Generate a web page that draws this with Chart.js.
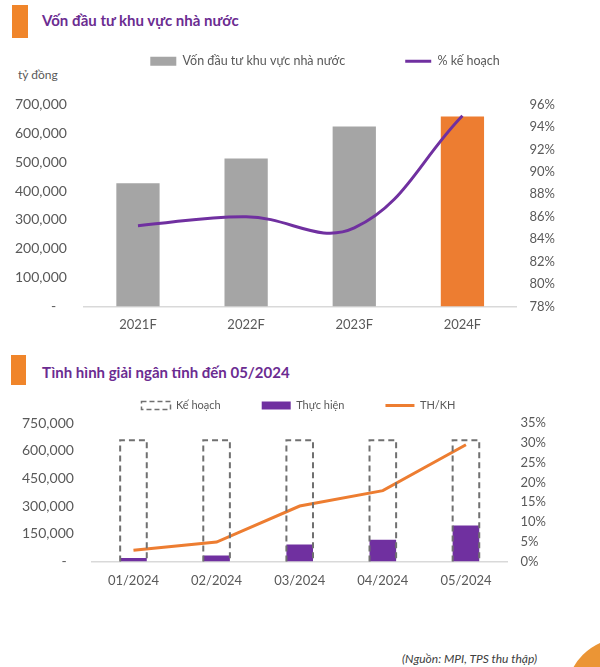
<!DOCTYPE html>
<html>
<head>
<meta charset="utf-8">
<script src="https://cdn.jsdelivr.net/npm/chart.js@4.4.1/dist/chart.umd.min.js"></script>
<style>
  body { margin: 0; background: #fff; }
  #page { position: relative; width: 600px; height: 667px; overflow: hidden; background: #fff; font-family: Lato, "Noto Sans", sans-serif; }
  .block { position: absolute; background: #f0852a; }
  .title { position: absolute; color: #6b2c91; font-weight: 700; font-size: 15px; line-height: 20px; white-space: nowrap; }
  .unit { position: absolute; color: #595959; font-size: 12px; }
  .source { position: absolute; color: #404040; font-size: 12px; font-style: italic; }
  .corner { position: absolute; left: 566px; top: 638px; width: 115px; height: 115px; border-radius: 50%; background: #eb9535; }
  canvas { position: absolute; left: 0; }
</style>
</head>
<body>
<div id="page">
  <div class="block" style="left:12px; top:5px; width:16px; height:33px;"></div>
  <div class="title" style="left:42px; top:10px;">Vốn đầu tư khu vực nhà nước</div>
  <div class="unit" style="left:18px; top:67px;">tỷ đồng</div>

  <div class="block" style="left:11px; top:355px; width:15px; height:30px;"></div>
  <div class="title" style="left:42px; top:362px;">Tình hình giải ngân tính đến 05/2024</div>

  <div class="source" style="left:402px; top:651px;">(Nguồn: MPI, TPS thu thập)</div>
  <div class="corner"></div>

  <canvas id="chart1" style="top:22px; width:600px; height:326px;" width="600" height="326"></canvas>
  <canvas id="chart2" style="top:361px; width:600px; height:244px;" width="600" height="244"></canvas>
</div>

<script>
// Chart 1 data
var years = ["2021F", "2022F", "2023F", "2024F"];
var stateCapital = [427000, 513000, 624000, 658000];
var planPct = [85.2, 86.0, 85.0, 95.0];

// Chart 2 data
var months = ["01/2024", "02/2024", "03/2024", "04/2024", "05/2024"];
var planValues = [657000, 657000, 657000, 657000, 657000];
var doneValues = [18000, 32000, 92000, 118000, 194000];
var doneRatio = [2.8, 4.9, 14.0, 17.9, 29.5];

var GRAY = '#a5a5a5';
var ORANGE = '#ed7d31';
var PURPLE = '#7030a0';
var TEXT = '#595959';

//move the legend block a bit (dx, dy)
var legendNudge = {
  id: 'legendNudge',
  afterLayout: function(chart, args, opts) {
    var lg = chart.legend;
    if (!lg) return;
    var dx = opts.dx || 0, dy = opts.dy || 0;
    lg.left += dx; lg.right += dx;
    lg.top += dy; lg.bottom += dy;
  }
};

//dashed outline for the "Kế hoạch" bars
var dashedBars = {
  id: 'dashedBars',
  afterDatasetsDraw: function(chart, args, opts) {
    if (opts.index === undefined) return;
    var meta = chart.getDatasetMeta(opts.index);
    var ctx = chart.ctx;
    ctx.save();
    ctx.setLineDash([6, 4]);
    ctx.lineWidth = 2;
    ctx.strokeStyle = '#707070';
    meta.data.forEach(function(bar) {
      var left = bar.x - bar.width / 2;
      var right = bar.x + bar.width / 2;
      ctx.beginPath();
      ctx.moveTo(left, bar.base);
      ctx.lineTo(left, bar.y);
      ctx.lineTo(right, bar.y);
      ctx.lineTo(right, bar.base);
      ctx.stroke();
    });
    ctx.restore();
  }
};

function leftTick(value) {
  if (value === 0) return '-   ';
  return value.toLocaleString('en-US');
}

new Chart(document.getElementById('chart1').getContext('2d'), {
  data: {
    labels: years,
    datasets: [{
      type: 'bar',
      label: 'Vốn đầu tư khu vực nhà nước',
      data: stateCapital,
      backgroundColor: function(c) { return c.dataIndex === 3 ? ORANGE : GRAY; },
      categoryPercentage: 0.8,
      barPercentage: 0.5,
      yAxisID: 'y',
      order: 2
    }, {
      type: 'line',
      label: '% kế hoạch',
      data: planPct,
      borderColor: PURPLE,
      borderWidth: 3,
      pointRadius: 0,
      tension: 0.4,
      yAxisID: 'y1',
      order: 1
    }]
  },
  plugins: [legendNudge],
  options: {
    responsive: false,
    animation: false,
    layout: { padding: { left: -2, right: 32, top: 0, bottom: 4 } },
    plugins: {
      tooltip: { enabled: false },
      legendNudge: { dx: 42, dy: -27 },
      legend: {
        labels: {
          usePointStyle: true,
          pointStyleWidth: 26,
          boxHeight: 9,
          padding: 60,
          color: TEXT,
          font: { family: 'Lato', size: 12.5 },
          generateLabels: function() {
            return [
              { text: 'Vốn đầu tư khu vực nhà nước', fillStyle: GRAY, strokeStyle: GRAY, lineWidth: 0, pointStyle: 'rect', datasetIndex: 0, fontColor: TEXT },
              { text: '% kế hoạch', fillStyle: PURPLE, strokeStyle: PURPLE, lineWidth: 3, pointStyle: 'line', datasetIndex: 1, fontColor: TEXT }
            ];
          }
        }
      }
    },
    scales: {
      x: {
        grid: { display: false, drawTicks: false },
        border: { display: true, color: '#d9d9d9', width: 1.5 },
        ticks: { color: TEXT, padding: 11, font: { family: 'Lato', size: 13 } }
      },
      y: {
        position: 'left',
        min: 0, max: 700000,
        grid: { display: false, drawTicks: false },
        border: { display: false },
        ticks: { stepSize: 100000, color: TEXT, padding: 17, font: { family: 'Lato', size: 14 }, callback: leftTick }
      },
      y1: {
        position: 'right',
        min: 78, max: 96,
        grid: { display: false, drawTicks: false },
        border: { display: false },
        ticks: { stepSize: 2, color: TEXT, padding: 13, font: { family: 'Lato', size: 13 }, callback: function(v) { return v + '%'; } }
      }
    }
  }
});

new Chart(document.getElementById('chart2').getContext('2d'), {
  data: {
    labels: months,
    datasets: [{
      type: 'bar',
      label: 'Kế hoạch',
      data: planValues,
      backgroundColor: 'rgba(0,0,0,0)',
      grouped: false,
      categoryPercentage: 0.8,
      barPercentage: 0.4,
      yAxisID: 'y',
      order: 3
    }, {
      type: 'bar',
      label: 'Thực hiện',
      data: doneValues,
      backgroundColor: PURPLE,
      grouped: false,
      categoryPercentage: 0.8,
      barPercentage: 0.4,
      yAxisID: 'y',
      order: 2
    }, {
      type: 'line',
      label: 'TH/KH',
      data: doneRatio,
      borderColor: ORANGE,
      borderWidth: 3,
      pointRadius: 0,
      tension: 0,
      yAxisID: 'y1',
      order: 1
    }]
  },
  plugins: [legendNudge, dashedBars],
  options: {
    responsive: false,
    animation: false,
    layout: { padding: { left: 4, right: 41, top: 0, bottom: 4 } },
    plugins: {
      tooltip: { enabled: false },
      dashedBars: { index: 0 },
      legendNudge: { dx: 17, dy: -2 },
      legend: {
        labels: {
          usePointStyle: true,
          pointStyleWidth: 29,
          boxHeight: 8,
          padding: 41,
          color: TEXT,
          font: { family: 'Lato', size: 11 },
          generateLabels: function() {
            return [
              { text: 'Kế hoạch', fillStyle: 'rgba(0,0,0,0)', strokeStyle: '#707070', lineWidth: 1.5, lineDash: [5, 3], pointStyle: 'rect', datasetIndex: 0, fontColor: TEXT },
              { text: 'Thực hiện', fillStyle: PURPLE, strokeStyle: PURPLE, lineWidth: 0, pointStyle: 'rect', datasetIndex: 1, fontColor: TEXT },
              { text: 'TH/KH', fillStyle: ORANGE, strokeStyle: ORANGE, lineWidth: 3, pointStyle: 'line', datasetIndex: 2, fontColor: TEXT }
            ];
          }
        }
      }
    },
    scales: {
      x: {
        grid: { display: false, drawTicks: false },
        border: { display: true, color: '#d9d9d9', width: 1.5 },
        ticks: { color: TEXT, padding: 12, font: { family: 'Lato', size: 13 } }
      },
      y: {
        position: 'left',
        min: 0, max: 750000,
        grid: { display: false, drawTicks: false },
        border: { display: false },
        ticks: { stepSize: 150000, color: TEXT, padding: 18, font: { family: 'Lato', size: 14 }, callback: function(v) { return v === 0 ? '-  ' : v.toLocaleString('en-US'); } }
      },
      y1: {
        position: 'right',
        min: 0, max: 35,
        grid: { display: false, drawTicks: false },
        border: { display: false },
        ticks: { stepSize: 5, color: TEXT, padding: 13, font: { family: 'Lato', size: 13 }, callback: function(v) { return v + '%'; } }
      }
    }
  }
});
</script>
</body>
</html>
